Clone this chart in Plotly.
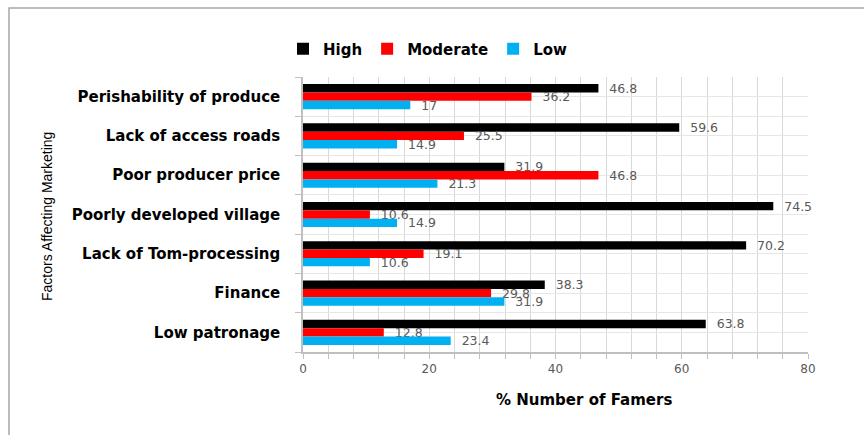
import plotly.graph_objects as go

categories = ["Perishability of produce", "Lack of access roads", "Poor producer price",
              "Poorly developed village", "Lack of Tom-processing", "Finance", "Low patronage"]
high = [46.8, 59.6, 31.9, 74.5, 70.2, 38.3, 63.8]
moderate = [36.2, 25.5, 46.8, 10.6, 19.1, 29.8, 12.8]
low = [17, 14.9, 21.3, 14.9, 10.6, 31.9, 23.4]
series_names = ["High", "Moderate", "Low"]
colors = ["#000000", "#FF0000", "#00B0F0"]
x_ticks = [0, 20, 40, 60, 80]

W, H = 864, 435
L, R, T, B = 303, 808, 77, 352
pw, ph = R - L, B - T

ypos = list(range(len(categories)))
BOLD = "DejaVu Sans"

fig = go.Figure()
for name, vals, col in zip(series_names, [high, moderate, low], colors):
    fig.add_trace(go.Bar(
        y=ypos, x=vals, orientation="h", name=name,
        marker=dict(color=col, line=dict(width=0)),
        text=[f"{v:g}" for v in vals],
        texttemplate="\u00a0\u00a0%{text}",
        textposition="outside", constraintext="none", cliponaxis=False,
        textfont=dict(family="DejaVu Sans", size=12.5, color="#595959"),
    ))

boundaries = [i - 0.5 for i in range(len(categories) + 1)]

fig.update_layout(
    width=W, height=H,
    margin=dict(l=L, r=W - R, t=T, b=H - B, pad=0),
    paper_bgcolor="white", plot_bgcolor="white",
    barmode="group", bargap=0.36, bargroupgap=0,
    showlegend=True,
    legend=dict(orientation="h", x=(283 - L) / pw, xanchor="left",
                y=1 + (T - 49) / ph, yanchor="middle",
                font=dict(family=BOLD, size=15, color="#000000", weight="bold"),
                itemwidth=30, traceorder="normal", bgcolor="rgba(0,0,0,0)"),
    xaxis=dict(range=[0, 80], tickvals=x_ticks, ticktext=[str(v) for v in x_ticks],
               ticks="outside", ticklen=5, tickcolor="#BFBFBF",
               showgrid=True, gridcolor="#D9D9D9", gridwidth=1,
               showline=True, linecolor="#BFBFBF", linewidth=1.5,
               zeroline=False,
               tickfont=dict(family="DejaVu Sans", size=12, color="#595959"),
               minor=dict(dtick=4, tick0=0, ticks="outside", ticklen=5, tickcolor="#BFBFBF",
                          showgrid=True, gridcolor="#D9D9D9", gridwidth=1)),
    yaxis=dict(range=[len(categories) - 0.5, -0.5], tickvals=ypos, ticktext=categories,
               ticks="", showgrid=True, gridcolor="#E6E6E6", gridwidth=1,
               showline=True, linecolor="#BFBFBF", linewidth=1.5, zeroline=False,
               ticklabelstandoff=18,
               tickfont=dict(family=BOLD, size=15, color="#000000", weight="bold"),
               minor=dict(tickvals=boundaries, ticks="outside", ticklen=6, tickcolor="#BFBFBF",
                          showgrid=True, gridcolor="#E6E6E6", gridwidth=1)),
    annotations=[
        dict(text="Factors Affecting Marketing", textangle=-90,
             xref="paper", yref="paper", x=(47 - L) / pw, y=0.5 - (217 - (T + B) / 2) / ph,
             xanchor="center", yanchor="middle", showarrow=False,
             font=dict(family="Liberation Sans Narrow, Liberation Sans", size=14, color="#000000")),
        dict(text="% Number of Famers",
             xref="paper", yref="paper", x=(584 - L) / pw, y=-(400 - B) / ph,
             xanchor="center", yanchor="middle", showarrow=False,
             font=dict(family=BOLD, size=15, color="#000000", weight="bold")),
    ],
    shapes=[dict(type="rect", xref="paper", yref="paper",
                 x0=(9 - L) / pw, x1=(W + 20 - L) / pw,
                 y0=-(H + 20 - B) / ph, y1=1 + (T - 8) / ph,
                 line=dict(color="#A6A6A6", width=1.5), fillcolor="rgba(0,0,0,0)", layer="below")],
)

fig.write_html("out.html")
